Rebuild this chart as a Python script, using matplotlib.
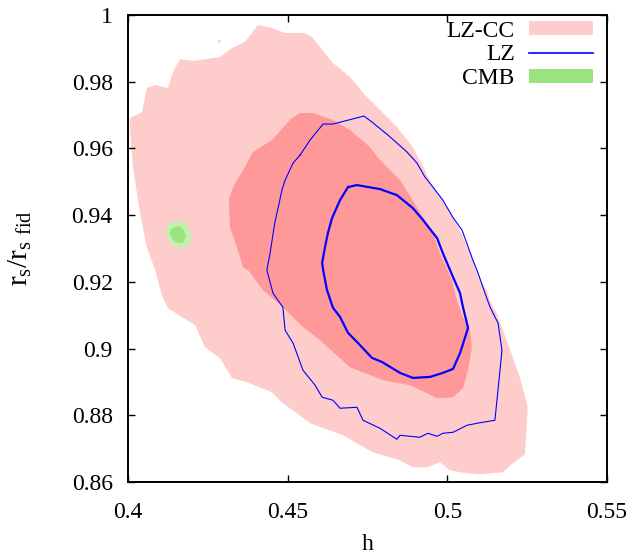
import matplotlib
matplotlib.use('Agg')
import matplotlib.pyplot as plt
from matplotlib.patches import Patch
from matplotlib.lines import Line2D

# LZ-CC outer (2 sigma) contour
lzcc_outer_h = [0.4006, 0.4044, 0.4059, 0.4085, 0.4125, 0.4141, 0.4163, 0.4204, 0.4288, 0.4326,
                0.4366, 0.4407, 0.4451, 0.4491, 0.4554, 0.4576, 0.4642, 0.4695, 0.4748, 0.4789,
                0.4842, 0.4892, 0.4930, 0.4955, 0.4999, 0.5039, 0.5071, 0.5102, 0.5124, 0.5133,
                0.5155, 0.5174, 0.5205, 0.5227, 0.5252, 0.5243, 0.5205, 0.5174, 0.5102, 0.5061,
                0.5008, 0.4977, 0.4936, 0.4892, 0.4851, 0.4767, 0.4673, 0.4570, 0.4529, 0.4485,
                0.4451, 0.4372, 0.4326, 0.4288, 0.4241, 0.4210, 0.4125, 0.4106, 0.4085, 0.4059,
                0.4038, 0.4031, 0.4016, 0.4006]
lzcc_outer_r = [0.9691, 0.9709, 0.9781, 0.9790, 0.9781, 0.9829, 0.9868, 0.9862, 0.9874, 0.9901,
                0.9919, 0.9970, 0.9961, 0.9946, 0.9946, 0.9934, 0.9856, 0.9814, 0.9754, 0.9715,
                0.9664, 0.9604, 0.9535, 0.9484, 0.9424, 0.9355, 0.9286, 0.9205, 0.9175, 0.9145,
                0.9106, 0.9055, 0.8974, 0.8914, 0.8824, 0.8683, 0.8656, 0.8629, 0.8623, 0.8626,
                0.8635, 0.8659, 0.8644, 0.8644, 0.8665, 0.8689, 0.8740, 0.8776, 0.8806, 0.8836,
                0.8869, 0.8899, 0.8911, 0.8971, 0.9004, 0.9070, 0.9121, 0.9160, 0.9235, 0.9304,
                0.9406, 0.9445, 0.9544, 0.9655]
# little isolated island of the outer contour
lzcc_speck_h = [0.4282, 0.4291, 0.4285]
lzcc_speck_r = [0.9925, 0.9925, 0.9910]

# LZ-CC inner (1 sigma) contour
lzcc_inner_h = [0.4539, 0.4514, 0.4498, 0.4451, 0.4391, 0.4366, 0.4329, 0.4316, 0.4319, 0.4341,
                0.4360, 0.4376, 0.4423, 0.4485, 0.4548, 0.4601, 0.4695, 0.4799, 0.4883, 0.4936,
                0.4968, 0.5018, 0.5049, 0.5065, 0.5077, 0.5071, 0.5049, 0.5030, 0.5015, 0.4977,
                0.4955, 0.4905, 0.4852, 0.4789, 0.4758, 0.4695, 0.4642, 0.4579]
lzcc_inner_r = [0.9706, 0.9691, 0.9676, 0.9625, 0.9589, 0.9544, 0.9484, 0.9448, 0.9364, 0.9304,
                0.9244, 0.9235, 0.9175, 0.9124, 0.9064, 0.9025, 0.8944, 0.8905, 0.8890, 0.8866,
                0.8851, 0.8854, 0.8881, 0.8935, 0.9004, 0.9055, 0.9094, 0.9145, 0.9205, 0.9286,
                0.9346, 0.9424, 0.9505, 0.9565, 0.9604, 0.9655, 0.9685, 0.9706]

# LZ outer (2 sigma) contour
lz_outer_h = [0.4539, 0.4570, 0.4611, 0.4642, 0.4739, 0.4764, 0.4814, 0.4874, 0.4905, 0.4930,
              0.4955, 0.4986, 0.5017, 0.5046, 0.5061, 0.5080, 0.5093, 0.5118, 0.5134, 0.5159,
              0.5171, 0.5165, 0.5149, 0.5093, 0.5062, 0.5018, 0.4986, 0.4968, 0.4939, 0.4914,
              0.4852, 0.4842, 0.4789, 0.4736, 0.4717, 0.4664, 0.4642, 0.4608, 0.4586, 0.4548,
              0.4517, 0.4492, 0.4485, 0.4454, 0.4435, 0.4445, 0.4460, 0.4470, 0.4482, 0.4492,
              0.4517, 0.4539]
lz_outer_r = [0.9580, 0.9625, 0.9673, 0.9673, 0.9697, 0.9679, 0.9640, 0.9589, 0.9556, 0.9514,
              0.9484, 0.9445, 0.9394, 0.9355, 0.9316, 0.9265, 0.9235, 0.9166, 0.9124, 0.9076,
              0.8995, 0.8935, 0.8785, 0.8776, 0.8770, 0.8749, 0.8746, 0.8737, 0.8746, 0.8734,
              0.8740, 0.8728, 0.8761, 0.8785, 0.8824, 0.8821, 0.8845, 0.8854, 0.8890, 0.8935,
              0.9016, 0.9055, 0.9124, 0.9166, 0.9235, 0.9286, 0.9379, 0.9421, 0.9475, 0.9505,
              0.9556, 0.9580]

# LZ inner (1 sigma) contour
lz_inner_h = [0.4689, 0.4717, 0.4789, 0.4842, 0.4892, 0.4924, 0.4968, 0.4986, 0.5018, 0.5040,
              0.5049, 0.5065, 0.5040, 0.5018, 0.4986, 0.4946, 0.4892, 0.4852, 0.4795, 0.4764,
              0.4720, 0.4689, 0.4664, 0.4642, 0.4623, 0.4611, 0.4608, 0.4617, 0.4626, 0.4639,
              0.4664, 0.4689]
lz_inner_r = [0.9484, 0.9490, 0.9478, 0.9460, 0.9421, 0.9385, 0.9331, 0.9286, 0.9214, 0.9166,
              0.9124, 0.9062, 0.8987, 0.8939, 0.8927, 0.8915, 0.8912, 0.8927, 0.8960, 0.8972,
              0.9017, 0.9047, 0.9095, 0.9122, 0.9176, 0.9236, 0.9257, 0.9304, 0.9346, 0.9391,
              0.9445, 0.9484]

# CMB contours
cmb_outer_h = [0.4138, 0.4163, 0.4182, 0.4194, 0.4200, 0.4191, 0.4169, 0.4144, 0.4125, 0.4119, 0.4125]
cmb_outer_r = [0.9379, 0.9382, 0.9373, 0.9355, 0.9331, 0.9310, 0.9301, 0.9307, 0.9325, 0.9349, 0.9370]
cmb_inner_h = [0.4144, 0.4163, 0.4175, 0.4182, 0.4175, 0.4160, 0.4141, 0.4131, 0.4135]
cmb_inner_r = [0.9364, 0.9367, 0.9355, 0.9334, 0.9319, 0.9316, 0.9325, 0.9343, 0.9358]

x_ticks = [0.4, 0.45, 0.5, 0.55]
x_tick_labels = ['0.4', '0.45', '0.5', '0.55']
y_ticks = [0.86, 0.88, 0.9, 0.92, 0.94, 0.96, 0.98, 1.0]
y_tick_labels = ['0.86', '0.88', '0.9', '0.92', '0.94', '0.96', '0.98', '1']

light_pink = '#ffcccc'
dark_pink = '#ff9999'
light_green = '#c2efb2'
dark_green = '#9be37f'
blue = '#0000ff'

plt.rcParams['font.family'] = ['Liberation Serif', 'DejaVu Serif']
plt.rcParams['mathtext.fontset'] = 'custom'
plt.rcParams['mathtext.rm'] = 'Liberation Serif'
plt.rcParams['font.size'] = 17

fig = plt.figure(figsize=(6.33, 5.54), dpi=100)
ax = fig.add_axes([0.2022, 0.1300, 0.7567, 0.8430])

ax.fill(lzcc_outer_h, lzcc_outer_r, color=light_pink, lw=0)
ax.fill(lzcc_speck_h, lzcc_speck_r, color=light_pink, lw=0)
ax.fill(lzcc_inner_h, lzcc_inner_r, color=dark_pink, lw=0)
ax.fill(cmb_outer_h, cmb_outer_r, color=light_green, lw=0)
ax.fill(cmb_inner_h, cmb_inner_r, color=dark_green, lw=0)
ax.plot(lz_outer_h, lz_outer_r, color=blue, lw=0.8)
ax.plot(lz_inner_h, lz_inner_r, color=blue, lw=1.6)

ax.set_xlim(0.4, 0.55)
ax.set_ylim(0.86, 1.0)
ax.set_xticks(x_ticks)
ax.set_xticklabels(x_tick_labels)
ax.set_yticks(y_ticks)
ax.set_yticklabels(y_tick_labels)
ax.tick_params(direction='in', length=5, width=1, top=True, right=True)
ax.tick_params(axis='x', pad=14.5)
ax.tick_params(axis='y', pad=11)
for sp in ax.spines.values():
    sp.set_linewidth(1.4)

ax.set_xlabel('h', labelpad=8)
ax.set_ylabel(r'r$_{\mathrm{s}}$/r$_{\mathrm{s\ fid}}$', fontsize=21, labelpad=27)

handles = [Patch(facecolor=light_pink, edgecolor='none'),
           Line2D([], [], color=blue, lw=1.2),
           Patch(facecolor=dark_green, edgecolor='none')]
ax.legend(handles, ['LZ-CC', 'LZ', 'CMB'], loc='upper right', markerfirst=False,
          frameon=False, handlelength=2.7, handleheight=0.55, labelspacing=0.115,
          handletextpad=0.6, borderpad=0, borderaxespad=0,
          bbox_to_anchor=(0.97, 0.988))

fig.savefig('out.png', dpi=100)
